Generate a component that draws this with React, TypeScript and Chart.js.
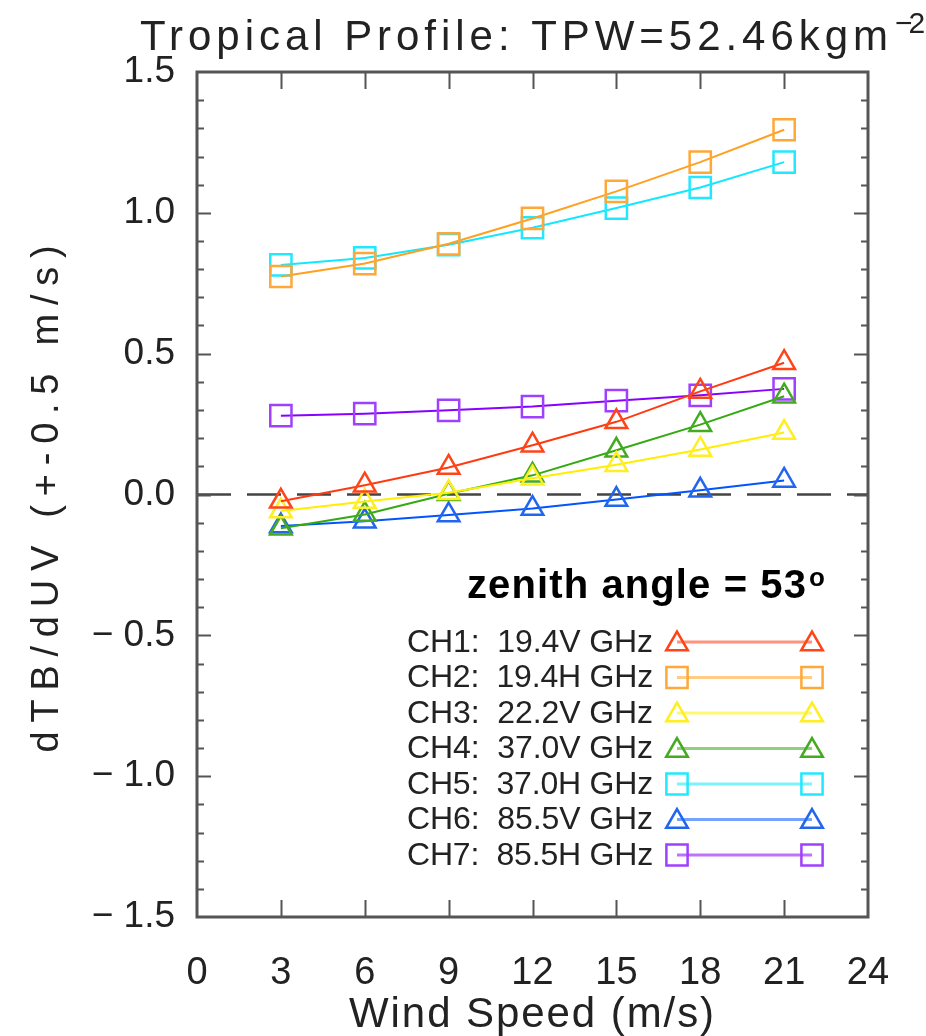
import React, { useEffect, useRef } from 'react';
import { Chart, registerables } from 'chart.js';

Chart.register(...registerables);

// ---- data ----
const windSpeeds = [3, 6, 9, 12, 15, 18, 21];
const ch1 = [-0.024, 0.033, 0.096, 0.175, 0.258, 0.366, 0.468];
const ch2 = [0.774, 0.82, 0.89, 0.98, 1.076, 1.18, 1.295];
const ch3 = [-0.059, -0.025, 0.006, 0.058, 0.106, 0.16, 0.22];
const ch4 = [-0.12, -0.071, 0.003, 0.068, 0.157, 0.248, 0.349];
const ch5 = [0.815, 0.84, 0.887, 0.947, 1.017, 1.09, 1.18];
const ch6 = [-0.112, -0.095, -0.073, -0.05, -0.018, 0.015, 0.05];
const ch7 = [0.28, 0.287, 0.299, 0.312, 0.333, 0.352, 0.375];

const channelLabels = [
  'CH1:  19.4V GHz',
  'CH2:  19.4H GHz',
  'CH3:  22.2V GHz',
  'CH4:  37.0V GHz',
  'CH5:  37.0H GHz',
  'CH6:  85.5V GHz',
  'CH7:  85.5H GHz',
];
const channelValues = [ch1, ch2, ch3, ch4, ch5, ch6, ch7];
const channelMarkers = ['triangle', 'rect', 'triangle', 'triangle', 'rect', 'triangle', 'rect'];
const channelLineColors = ['#ff3a10', '#ffa020', '#ffee00', '#33aa11', '#11e8ff', '#0055ff', '#8800ff'];
const channelMarkerColors = ['#ff4418', '#ffa83a', '#ffee22', '#44aa22', '#22e8ff', '#2266ee', '#a040ff'];

const xMin = 0;
const xMax = 24;
const xStep = 3;
const yMin = -1.5;
const yMax = 1.5;
const yStep = 0.5;
const yMinorStep = 0.1;
const zeroLine = [0, 0];

const titleText = 'Tropical Profile: TPW=52.46kgm';
const titleSup = '\u22122';
const xTitle = 'Wind Speed (m/s)';
const yTitle = 'dTB/dUV (+-0.5 m/s)';
const annotText = 'zenith angle = 53';
const annotSup = 'o';

const FONT = "'Liberation Sans', Arial, sans-serif";

function fitText(ctx: CanvasRenderingContext2D, text: string, target: number) {
  (ctx as any).letterSpacing = '0px';
  const w = ctx.measureText(text).width;
  const ls = (target - w) / Math.max(1, text.length);
  (ctx as any).letterSpacing = ls.toFixed(2) + 'px';
}

function drawMarker(ctx: CanvasRenderingContext2D, style: string, x: number, y: number, r: number) {
  ctx.beginPath();
  if (style === 'triangle') {
    const a = (2 * Math.PI) / 3;
    ctx.moveTo(x, y - r);
    ctx.lineTo(x + Math.sin(a) * r, y - Math.cos(a) * r);
    ctx.lineTo(x - Math.sin(a) * r, y - Math.cos(a) * r);
    ctx.closePath();
  } else {
    const s = Math.SQRT1_2 * r;
    ctx.rect(x - s, y - s, 2 * s, 2 * s);
  }
  ctx.stroke();
}

const framePlugin = {
  id: 'frameTicks',
  afterDatasetsDraw(chart: any) {
    const ctx: CanvasRenderingContext2D = chart.ctx;
    const { left, right, top, bottom } = chart.chartArea;
    const xs = chart.scales.x;
    const ys = chart.scales.y;
    ctx.save();
    ctx.strokeStyle = '#555';
    ctx.lineWidth = 2;
    for (let v = xMin + xStep; v < xMax - 1e-9; v += xStep) {
      const px = Math.round(xs.getPixelForValue(v)) + 0.5;
      ctx.beginPath();
      ctx.moveTo(px, bottom);
      ctx.lineTo(px, bottom - 17);
      ctx.moveTo(px, top);
      ctx.lineTo(px, top + 17);
      ctx.stroke();
    }
    const n = Math.round((yMax - yMin) / yMinorStep);
    for (let i = 1; i < n; i++) {
      const v = yMin + i * yMinorStep;
      const major = i % Math.round(yStep / yMinorStep) === 0;
      const len = major ? 14 : 7;
      const py = Math.round(ys.getPixelForValue(v)) + 0.5;
      ctx.beginPath();
      ctx.moveTo(left, py);
      ctx.lineTo(left + len, py);
      ctx.moveTo(right, py);
      ctx.lineTo(right - len, py);
      ctx.stroke();
    }
    ctx.lineWidth = 3;
    ctx.strokeStyle = '#555';
    ctx.strokeRect(left, top, right - left, bottom - top);
    ctx.restore();
  },
  afterDraw(chart: any) {
    const ctx: CanvasRenderingContext2D = chart.ctx;
    const { left, right, top, bottom } = chart.chartArea;
    ctx.save();
    ctx.fillStyle = '#222';
    ctx.textBaseline = 'alphabetic';

    // title
    ctx.font = `42px ${FONT}`;
    ctx.textAlign = 'left';
    fitText(ctx, titleText, 753);
    ctx.fillText(titleText, 140, 50);
    ctx.font = `30px ${FONT}`;
    fitText(ctx, titleSup, 26);
    ctx.fillText(titleSup, 895, 33);

    // x title
    ctx.font = `42px ${FONT}`;
    ctx.textAlign = 'center';
    fitText(ctx, xTitle, 367);
    ctx.fillText(xTitle, (left + right) / 2, 1027);

    // y title
    ctx.save();
    ctx.translate(58, (top + bottom) / 2);
    ctx.rotate(-Math.PI / 2);
    ctx.font = `38px ${FONT}`;
    fitText(ctx, yTitle, 516);
    ctx.fillText(yTitle, 0, 0);
    ctx.restore();

    // annotation
    (ctx as any).letterSpacing = '0px';
    ctx.fillStyle = '#000';
    ctx.font = `bold 40px ${FONT}`;
    ctx.textAlign = 'left';
    fitText(ctx, annotText, 340);
    ctx.fillText(annotText, 467, 598);
    (ctx as any).letterSpacing = '0px';
    ctx.font = `bold 26px ${FONT}`;
    ctx.fillText(annotSup, 809, 586);

    // legend
    const rowY0 = 642;
    const rowDy = 35.5;
    for (let i = 0; i < channelLabels.length; i++) {
      const y = rowY0 + i * rowDy;
      ctx.fillStyle = '#222';
      ctx.font = `32px ${FONT}`;
      ctx.textAlign = 'right';
      ctx.textBaseline = 'middle';
      fitText(ctx, channelLabels[i], 246);
      ctx.fillText(channelLabels[i], 653, y + 1);
      (ctx as any).letterSpacing = '0px';
      ctx.globalAlpha = 0.55;
      ctx.strokeStyle = channelLineColors[i];
      ctx.lineWidth = 3;
      ctx.beginPath();
      ctx.moveTo(677, y);
      ctx.lineTo(812, y);
      ctx.stroke();
      ctx.globalAlpha = 1;
      ctx.strokeStyle = channelMarkerColors[i];
      ctx.lineWidth = 2.5;
      const r = channelMarkers[i] === 'rect' ? 15 : 12.5;
      const yy = channelMarkers[i] === 'rect' ? y : y + 2;
      drawMarker(ctx, channelMarkers[i], 677, yy, r);
      drawMarker(ctx, channelMarkers[i], 812, yy, r);
    }
    ctx.restore();
  },
};

export default function App() {
  const ref = useRef<HTMLCanvasElement | null>(null);
  useEffect(() => {
    document.body.style.margin = '0';
    const canvas = ref.current;
    if (!canvas) return;
    const datasets: any[] = channelLabels.map((label, i) => ({
      label,
      data: windSpeeds.map((x, j) => ({ x, y: channelValues[i][j] })),
      borderColor: channelLineColors[i],
      borderWidth: 2,
      pointStyle: channelMarkers[i],
      pointRadius: channelMarkers[i] === 'rect' ? 15 : 12.5,
      pointBorderWidth: 2.5,
      pointBorderColor: channelMarkerColors[i],
      pointBackgroundColor: 'rgba(0,0,0,0)',
      showLine: true,
      fill: false,
      tension: 0,
    }));
    datasets.push({
      label: 'zero',
      data: [{ x: xMin, y: zeroLine[0] }, { x: xMax, y: zeroLine[1] }],
      borderColor: '#444',
      borderWidth: 2.5,
      borderDash: [34, 16],
      pointRadius: 0,
      showLine: true,
      fill: false,
    });
    const chart = new Chart(canvas, {
      type: 'scatter',
      data: { datasets },
      options: {
        responsive: false,
        animation: false,
        devicePixelRatio: 1,
        layout: { padding: { top: 72, right: 58, left: 0, bottom: 0 } },
        plugins: {
          legend: { display: false },
          title: { display: false },
          tooltip: { enabled: false },
        },
        scales: {
          x: {
            type: 'linear',
            min: xMin,
            max: xMax,
            ticks: {
              stepSize: xStep,
              color: '#222',
              font: { family: FONT, size: 38 },
              padding: 26,
              maxRotation: 0,
              autoSkip: false,
            },
            grid: { display: false },
            border: { display: false },
            afterFit: (s: any) => {
              s.height = 119;
            },
          },
          y: {
            type: 'linear',
            min: yMin,
            max: yMax,
            ticks: {
              stepSize: yStep,
              color: '#222',
              font: { family: FONT, size: 37 },
              padding: 14,
              callback: (v: any) => {
                const n = Number(v);
                const s = Math.abs(n).toFixed(1);
                return n < -1e-9 ? '\u2212 ' + s : s;
              },
            },
            grid: { display: false },
            border: { display: false },
            afterFit: (s: any) => {
              s.width = 197;
            },
          },
        },
      },
      plugins: [framePlugin],
    } as any);
    return () => chart.destroy();
  }, []);
  return <canvas ref={ref} width={926} height={1036} style={{ display: 'block' }} />;
}
